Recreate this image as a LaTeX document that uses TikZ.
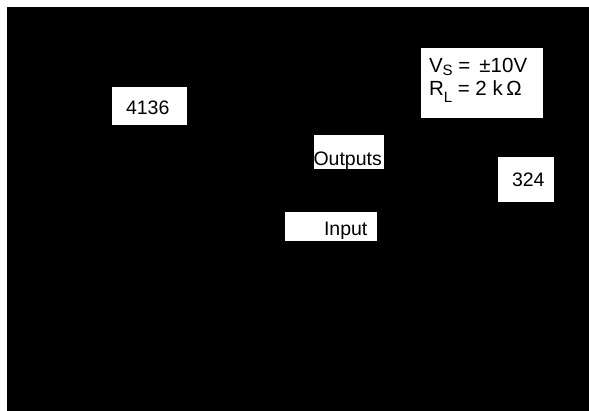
\documentclass[tikz,border=0pt]{standalone}
\usepackage{fontspec}
\setmainfont{Liberation Sans}
\begin{document}
\begin{tikzpicture}[x=1pt,y=-1pt,
  every node/.style={inner sep=0pt, outer sep=0pt},
  wbox/.style={fill=white, draw=none, anchor=north west},
  lbl/.style={anchor=base west, text=black, font=\fontsize{19.5}{22}\selectfont},
  vlbl/.style={anchor=base west, text=black, font=\fontsize{20.5}{22}\selectfont}]
\useasboundingbox (0,0) rectangle (589,411);
\fill[white] (0,0) rectangle (589,411);
\fill[black] (7,7) rectangle (589,411);
% boxes
\node[wbox, minimum width=122pt, minimum height=70pt] (bvs) at (421,48) {};
\node[wbox, minimum width=75pt, minimum height=38pt] (b4136) at (112,87) {};
\node[wbox, minimum width=70pt, minimum height=34pt] (bout) at (314,135) {};
\node[wbox, minimum width=56pt, minimum height=45pt] (b324) at (498,157) {};
\node[wbox, minimum width=92pt, minimum height=29pt] (bin) at (285,212) {};
% texts
\node[lbl] (t4136) at (126,115) {4136};
\node[lbl] (tout) at (313.5,166) {Outputs};
\node[lbl] (t324) at (512,187) {324};
\node[lbl] (tin) at (324,236) {Input};
\node[vlbl] (tvs) at (429,73) {V\raisebox{-3pt}{\fontsize{15}{15}\selectfont S} = \,±10V};
\node[vlbl] (trl) at (429,96) {R\raisebox{-7pt}{\fontsize{15}{15}\selectfont L} = 2 k\,Ω};
\end{tikzpicture}
\end{document}
